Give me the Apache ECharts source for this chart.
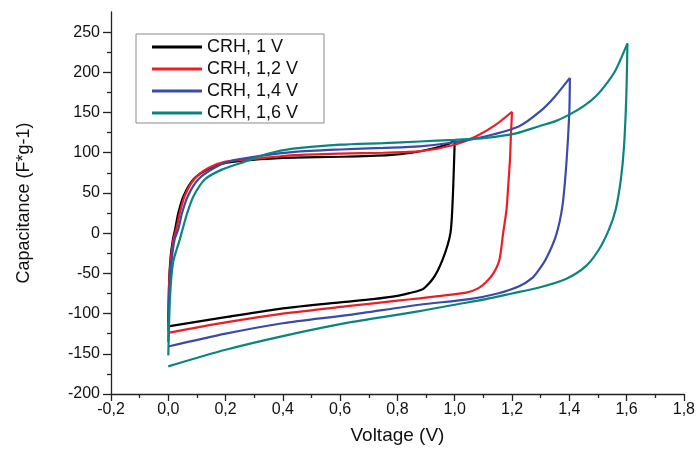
<!DOCTYPE html>
<html>
<head>
<meta charset="utf-8">
<script src="https://cdn.jsdelivr.net/npm/echarts@6/dist/echarts.min.js"></script>
<style>html,body{margin:0;padding:0;background:#fff}#c{width:698px;height:450px}</style>
</head>
<body>
<div id="c"></div>
<script>
// ---- Data ----
const seriesNames = ['CRH, 1 V', 'CRH, 1,2 V', 'CRH, 1,4 V', 'CRH, 1,6 V'];

// Forward (charging) branches: voltage / capacitance
const up1V = [0, 0.003, 0.008, 0.016, 0.024, 0.035, 0.053, 0.088, 0.146, 0.204, 0.32, 0.44, 0.6, 0.77, 0.85, 0.92, 0.97, 1.0];
const up1C = [-112, -60, -30, -8, 5, 25, 46, 67, 81, 87.5, 92, 94, 95, 97, 100, 105, 110, 115];
const up12V = [0, 0.003, 0.009, 0.018, 0.028, 0.04, 0.057, 0.09, 0.14, 0.2, 0.32, 0.44, 0.6, 0.75, 0.88, 1.0, 1.075, 1.14, 1.2];
const up12C = [-122, -62, -32, -8, 5, 25, 46, 67, 81, 89, 93, 97, 99, 100, 102, 110, 120.5, 134, 151];
const up14V = [0, 0.004, 0.011, 0.022, 0.035, 0.048, 0.068, 0.105, 0.16, 0.22, 0.32, 0.44, 0.6, 0.75, 0.877, 1.0, 1.109, 1.225, 1.3, 1.35, 1.402];
const up14C = [-135, -70, -36, -8, 5, 25, 46, 67, 81, 90, 96, 101, 104, 106, 108, 113, 120.5, 133, 152, 170, 193];
const up16V = [0, 0.006, 0.017, 0.04, 0.05, 0.066, 0.088, 0.128, 0.187, 0.26, 0.35, 0.436, 0.6, 0.75, 0.877, 1.0, 1.109, 1.214, 1.295, 1.35, 1.4, 1.45, 1.492, 1.53, 1.562, 1.603];
const up16C = [-152, -80, -36, -8, 5, 25, 46, 67, 79, 88, 99, 105, 110, 112, 114, 116, 118.5, 124, 133, 139, 147.4, 158, 170, 186, 203, 236];

// Reverse (discharging) branches: voltage / capacitance
const dn1V = [1.0, 0.995, 0.99, 0.985, 0.975, 0.958, 0.94, 0.923, 0.905, 0.889, 0.865, 0.842, 0.8, 0.715, 0.6, 0.4, 0.2, 0];
const dn1C = [115, 60, 20, 0, -15, -32.5, -47, -57, -64.5, -69.6, -72.5, -74.5, -78, -82, -86, -93.5, -104.5, -116];
const dn12V = [1.2, 1.196, 1.193, 1.187, 1.181, 1.169, 1.156, 1.135, 1.109, 1.08, 1.04, 0.95, 0.877, 0.8, 0.633, 0.4, 0.2, 0];
const dn12C = [151, 120, 92, 60, 30, 0, -33, -50, -61, -69, -74, -78, -81, -84, -90.5, -100, -111, -124];
const dn14V = [1.402, 1.4, 1.39, 1.376, 1.353, 1.318, 1.295, 1.27, 1.225, 1.15, 1.051, 0.877, 0.633, 0.4, 0.2, 0];
const dn14C = [193, 150, 87.5, 33.6, -3.6, -32.5, -45, -56, -66, -75, -82, -89, -101.6, -112, -125, -141];
const dn16V = [1.603, 1.599, 1.591, 1.58, 1.562, 1.539, 1.504, 1.458, 1.388, 1.295, 1.2, 1.109, 1.0, 0.877, 0.633, 0.4, 0.2, 0];
const dn16C = [236, 170, 108, 67, 29.5, 5, -20, -41, -57, -67.6, -75, -82, -89, -97, -111, -128, -145, -165.6];

const xTicks = [-0.2, 0, 0.2, 0.4, 0.6, 0.8, 1.0, 1.2, 1.4, 1.6, 1.8];
const yTicks = [-200, -150, -100, -50, 0, 50, 100, 150, 200, 250];

const colors = ['#000000', '#ee1c25', '#3a4ba8', '#0a857d'];
const upV = [up1V, up12V, up14V, up16V];
const upC = [up1C, up12C, up14C, up16C];
const dnV = [dn1V, dn12V, dn14V, dn16V];
const dnC = [dn1C, dn12C, dn14C, dn16C];

const FONT = 'Liberation Sans, Arial, sans-serif';
const chart = echarts.init(document.getElementById('c'), null, {renderer: 'canvas'});
const axisColor = '#222';

function mk(name, color, xs, ys) {
  return {
    name: name, type: 'line', showSymbol: false, symbol: 'none',
    smooth: 0.25,
    color: color, lineStyle: {color: color, width: 2.2},
    data: xs.map((v, k) => [v, ys[k]])
  };
}
const series = [];
seriesNames.forEach((n, i) => {
  series.push(mk(n, colors[i], upV[i], upC[i]));
  series.push(mk(n, colors[i], dnV[i], dnC[i]));
});

chart.setOption({
  animation: false,
  backgroundColor: '#ffffff',
  grid: {left: 111, right: 13, top: 12, bottom: 55, containLabel: false},
  legend: {
    show: true, orient: 'vertical', left: 136, top: 34,
    padding: [4, 26, 1, 16], itemGap: 4, itemWidth: 50, itemHeight: 3, icon: 'rect',
    borderColor: '#8a8a8a', borderWidth: 1, backgroundColor: '#fff',
    textStyle: {fontFamily: FONT, fontSize: 18, color: '#111'},
    data: seriesNames
  },
  xAxis: {
    type: 'value', min: xTicks[0], max: xTicks[xTicks.length - 1], interval: 0.2,
    name: 'Voltage (V)', nameLocation: 'middle', nameGap: 32,
    nameTextStyle: {fontFamily: FONT, fontSize: 19, color: '#111'},
    axisLine: {show: true, onZero: false, lineStyle: {color: axisColor, width: 1.3}},
    axisTick: {show: true, inside: false, length: 7, lineStyle: {color: axisColor, width: 1.3}},
    minorTick: {show: true, splitNumber: 2, length: 4, lineStyle: {color: axisColor, width: 1.3}},
    splitLine: {show: false},
    axisLabel: {fontFamily: FONT, fontSize: 16, color: '#111', margin: 8,
      formatter: v => (Math.round(v * 10) / 10).toFixed(1).replace('.', ',')}
  },
  yAxis: {
    type: 'value', min: yTicks[0], max: 275, interval: 50,
    name: 'Capacitance (F*g-1)', nameLocation: 'middle', nameGap: 78, nameRotate: 90,
    nameTextStyle: {fontFamily: FONT, fontSize: 18, color: '#111'},
    axisLine: {show: true, onZero: false, lineStyle: {color: axisColor, width: 1.3}},
    axisTick: {show: true, inside: false, length: 8, customValues: yTicks, lineStyle: {color: axisColor, width: 1.3}},
    minorTick: {show: true, splitNumber: 2, length: 4, lineStyle: {color: axisColor, width: 1.3}},
    splitLine: {show: false},
    axisLabel: {fontFamily: FONT, fontSize: 16, color: '#111', margin: 11, customValues: yTicks,
      formatter: v => (v > 250 ? '' : String(v))}
  },
  series: series
});
</script>
</body>
</html>
